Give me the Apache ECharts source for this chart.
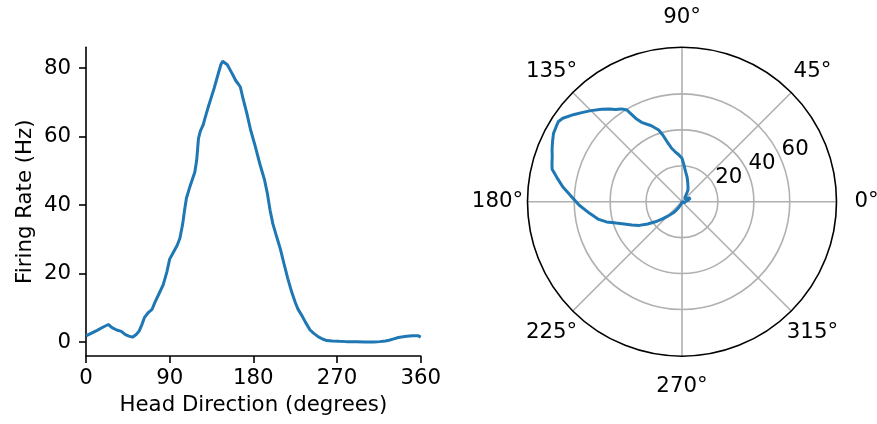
<!DOCTYPE html>
<html>
<head>
<meta charset="utf-8">
<title>Head direction tuning curve</title>
<script src="https://cdn.jsdelivr.net/npm/echarts@6/dist/echarts.min.js"></script>
<style>
  html, body { margin: 0; padding: 0; background: #fff; }
  #chart { width: 877px; height: 424px; }
</style>
</head>
<body>
<div id="chart"></div>
<script>
// Head direction (degrees) and mean firing rate (Hz) of the cell
const headDirection = [
  0, 6, 12, 18, 24, 28, 33, 38, 42, 46, 50, 54, 57, 60, 63, 67, 71, 74, 78, 83,
  87, 90, 94, 98, 101, 104, 106, 108, 112, 117, 119, 121, 123, 126, 128, 131, 135, 138, 141, 145,
  147, 149, 152, 155, 158, 161, 164, 166, 169, 173, 177, 182, 187, 192, 195, 198, 201, 205, 209, 213,
  217, 221, 225, 228, 232, 236, 241, 245, 250, 255, 259, 265, 272, 280, 291, 300, 310, 316, 322, 326,
  331, 336, 341, 345, 351, 357, 360
];
const firingRate = [
  1.8, 2.6, 3.4, 4.3, 5.1, 4.2, 3.5, 3.1, 2.2, 1.7, 1.4, 2.2, 3.1, 5.0, 7.2, 8.6, 9.5, 11.5, 13.8, 16.7,
  20.5, 24.2, 26.2, 28.2, 30.3, 34.5, 38.5, 42.0, 45.6, 49.6, 53.0, 59.5, 61.6, 63.4, 65.4, 68.2, 71.7, 74.3, 77.2, 81.0,
  82.0, 81.6, 81.0, 79.5, 78.0, 76.4, 75.3, 74.5, 71.0, 66.8, 62.0, 57.2, 52.0, 47.4, 43.5, 38.5, 34.5, 30.8, 27.2, 22.8,
  18.6, 14.8, 11.6, 9.6, 7.8, 5.8, 3.5, 2.5, 1.5, 0.8, 0.4, 0.3, 0.2, 0.1, 0.05, 0.0, 0.0, 0.1, 0.3, 0.5,
  0.9, 1.3, 1.5, 1.7, 1.8, 1.85, 1.4
];

// Tick labels
const xTicks = [0, 90, 180, 270, 360];
const yTicks = [0, 20, 40, 60, 80];
const angleTicks = [0, 45, 90, 135, 180, 225, 270, 315];
const radialTicks = [20, 40, 60];

const FONT = 'DejaVu Sans';
const FS = 21.3;
const LINE_BLUE = '#1f77b4';
const GRID_GRAY = '#b0b0b0';

const R_MAX = 86;          // polar radial extent
const POLAR_R = 154.5;     // polar radius in px
const LABEL_PAD = 30;      // angle labels sit this far outside the rim (px)
const angleLabelR = R_MAX * (POLAR_R + LABEL_PAD) / POLAR_R;

const plainLabel = {
  show: true,
  fontFamily: FONT, fontSize: FS, color: '#000',
  textBorderWidth: 0, textBorderColor: 'none', opacity: 1
};

const chart = echarts.init(document.getElementById('chart'), null, { renderer: 'canvas' });

const option = {
  animation: false,
  backgroundColor: '#ffffff',
  textStyle: { fontFamily: FONT, fontSize: FS, color: '#000' },
  grid: { left: 86, right: 456.3, top: 47.3, bottom: 68, containLabel: false },
  xAxis: {
    type: 'value',
    min: 0, max: 360, interval: 90,
    name: 'Head Direction (degrees)',
    nameLocation: 'middle',
    nameGap: 39,
    nameTextStyle: { fontFamily: FONT, fontSize: FS, color: '#000' },
    axisLine: { show: true, onZero: false, lineStyle: { color: '#000', width: 1.6 } },
    axisTick: { show: true, length: 7, customValues: xTicks, lineStyle: { color: '#000', width: 1.6 } },
    axisLabel: { customValues: xTicks, margin: 12, fontFamily: FONT, fontSize: FS, color: '#000' },
    splitLine: { show: false }
  },
  yAxis: {
    type: 'value',
    min: -4.1, max: 86.1,
    name: 'Firing Rate (Hz)',
    nameLocation: 'middle',
    nameGap: 50,
    nameRotate: 90,
    nameTextStyle: { fontFamily: FONT, fontSize: FS, color: '#000' },
    axisLine: { show: true, onZero: false, lineStyle: { color: '#000', width: 1.6 } },
    axisTick: { show: true, length: 7, customValues: yTicks, lineStyle: { color: '#000', width: 1.6 } },
    axisLabel: { customValues: yTicks, margin: 15, fontFamily: FONT, fontSize: FS, color: '#000' },
    splitLine: { show: false }
  },
  polar: { center: [682, 201.7], radius: POLAR_R },
  angleAxis: {
    type: 'value',
    min: 0, max: 360, interval: 45,
    startAngle: 0,
    clockwise: false,
    axisLine: { show: true, lineStyle: { color: '#000', width: 1.6 } },
    axisTick: { show: false },
    axisLabel: { show: false },
    splitLine: { show: true, lineStyle: { color: GRID_GRAY, width: 1.6 } }
  },
  radiusAxis: {
    type: 'value',
    min: 0, max: R_MAX,
    axisLine: { show: false },
    axisTick: { show: false, customValues: radialTicks },
    axisLabel: { show: false },
    splitLine: { show: true, lineStyle: { color: GRID_GRAY, width: 1.6 } }
  },
  series: [
    {
      type: 'line',
      xAxisIndex: 0, yAxisIndex: 0,
      data: headDirection.map((d, i) => [d, firingRate[i]]),
      showSymbol: false,
      symbol: 'none',
      lineStyle: { color: LINE_BLUE, width: 3 },
      z: 3
    },
    {
      type: 'line',
      coordinateSystem: 'polar',
      data: firingRate.map((v, i) => [v, headDirection[i]]),
      showSymbol: false,
      symbol: 'none',
      lineStyle: { color: LINE_BLUE, width: 3 },
      z: 3
    },
    {
      // angle tick labels around the rim
      type: 'scatter',
      coordinateSystem: 'polar',
      silent: true,
      clip: false,
      symbol: 'circle',
      symbolSize: 0,
      itemStyle: { color: '#000', borderWidth: 0 },
      data: angleTicks.map(a => [angleLabelR, a]),
      label: Object.assign({}, plainLabel, {
        position: 'inside',
        formatter: p => p.value[1] + '°'
      }),
      z: 4
    },
    {
      // radial tick labels along the 22.5° spoke
      type: 'scatter',
      coordinateSystem: 'polar',
      silent: true,
      clip: false,
      symbol: 'circle',
      symbolSize: 0,
      itemStyle: { color: '#000', borderWidth: 0 },
      data: radialTicks.map(r => [r, 22.5]),
      label: Object.assign({}, plainLabel, {
        position: 'insideBottomLeft',
        distance: 0,
        formatter: p => String(p.value[0])
      }),
      z: 4
    }
  ]
};

chart.setOption(option);
</script>
</body>
</html>
